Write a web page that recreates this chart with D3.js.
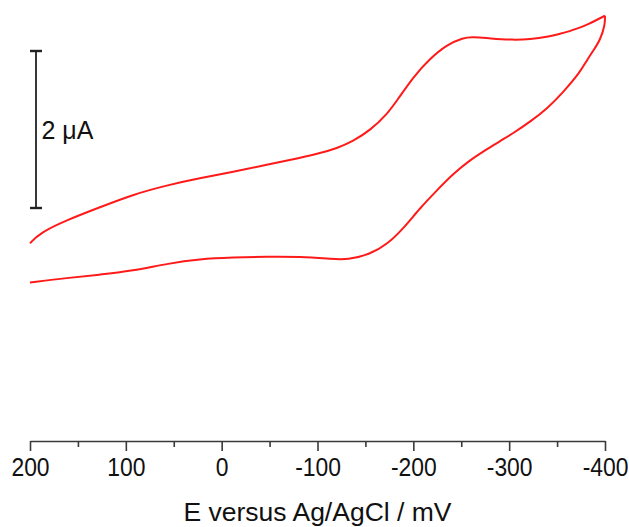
<!DOCTYPE html>
<html>
<head>
<meta charset="utf-8">
<script src="https://cdn.jsdelivr.net/npm/d3@7/dist/d3.min.js"></script>
<style>
    body { margin: 0; background: #fff; }
    svg text { font-family: "Liberation Sans", Arial, sans-serif; fill: #111; }
    .axis path, .axis line { stroke: #3a3a3a; stroke-width: 1.6px; }
    .curve { fill: none; stroke: #ff1a1a; stroke-width: 2px; }
</style>
</head>
<body>
<div id="chart"></div>
<script>
    // potential (mV) and current (uA, arbitrary zero)
    var fwdE = [200, 190, 161, 127, 93, 57, 23, -12, -47, -82, -103, -120, -137, -155, -173, -183, -200, -217, -235, -252, -262, -280, -304, -322, -340, -353, -360, -374, -381, -400];
    var fwdI = [-0.45, -0.32, -0.15, 0.01, 0.17, 0.29, 0.38, 0.46, 0.55, 0.64, 0.70, 0.76, 0.85, 0.99, 1.20, 1.37, 1.67, 1.90, 2.08, 2.17, 2.18, 2.16, 2.14, 2.15, 2.18, 2.22, 2.24, 2.30, 2.33, 2.45];

    var revE = [-400, -400, -395, -388, -381, -374, -356, -340, -322, -304, -290, -277, -259, -241, -225, -207, -189, -173, -155, -131, -116, -82, -47, -12, 23, 57, 93, 127, 161, 200];
    var revI = [2.45, 2.33, 2.14, 2.01, 1.88, 1.73, 1.47, 1.27, 1.10, 0.95, 0.85, 0.75, 0.61, 0.43, 0.23, 0.00, -0.27, -0.46, -0.59, -0.66, -0.65, -0.62, -0.62, -0.63, -0.65, -0.71, -0.80, -0.85, -0.89, -0.95];

    var majorTicks = [200, 100, 0, -100, -200, -300, -400];
    var minorTicks = [150, 50, -50, -150, -250, -350];
    var barValues = [0, 2];
    var barLabel = "2 \u03bcA";
    var xTitle = "E versus Ag/AgCl / mV";

    var width = 629, height = 527, axisY = 441;

    var svg = d3.select("#chart").append("svg")
        .attr("width", width)
        .attr("height", height);

    var x = d3.scaleLinear().domain([200, -400]).range([30, 605]);
    var y = d3.scaleLinear().domain([0, 2]).range([208, 51]);

    // minor ticks
    svg.append("g")
        .attr("class", "axis")
        .attr("transform", "translate(0," + axisY + ")")
        .call(d3.axisBottom(x).tickValues(minorTicks).tickSize(6).tickSizeOuter(0).tickFormat(""))
        .select(".domain").remove();

    var ax = svg.append("g")
        .attr("class", "axis")
        .attr("transform", "translate(0," + axisY + ")")
        .call(d3.axisBottom(x).tickValues(majorTicks).tickSize(10).tickSizeOuter(0).tickPadding(7)
            .tickFormat(function (d) { return String(d); }));
    ax.selectAll("text")
        .style("font-size", "26px")
        .attr("transform", "scale(0.88,1)");

    svg.append("text")
        .attr("x", 317.5)
        .attr("y", 521)
        .attr("text-anchor", "middle")
        .style("font-size", "26.5px")
        .text(xTitle);

    // scale bar
    var bar = svg.append("g").attr("stroke", "#222");
    bar.append("line")
        .attr("x1", 36).attr("x2", 36)
        .attr("y1", y(barValues[0])).attr("y2", y(barValues[1]))
        .attr("stroke-width", 1.8);
    bar.selectAll("line.cap")
        .data(barValues)
        .enter().append("line")
        .attr("class", "cap")
        .attr("x1", 30).attr("x2", 42)
        .attr("y1", function (d) { return y(d); })
        .attr("y2", function (d) { return y(d); })
        .attr("stroke-width", 2.4);
    svg.append("text")
        .attr("x", 41.5)
        .attr("y", 139)
        .style("font-size", "25px")
        .text(barLabel);

    var line = d3.line()
        .x(function (d) { return x(d[0]); })
        .y(function (d) { return y(d[1]); })
        .curve(d3.curveBasis);

    var fwd = fwdE.map(function (e, i) { return [e, fwdI[i]]; });
    var rev = revE.map(function (e, i) { return [e, revI[i]]; });

    svg.selectAll("path.curve")
        .data([fwd, rev])
        .enter().append("path")
        .attr("class", "curve")
        .attr("d", line);
</script>
</body>
</html>
